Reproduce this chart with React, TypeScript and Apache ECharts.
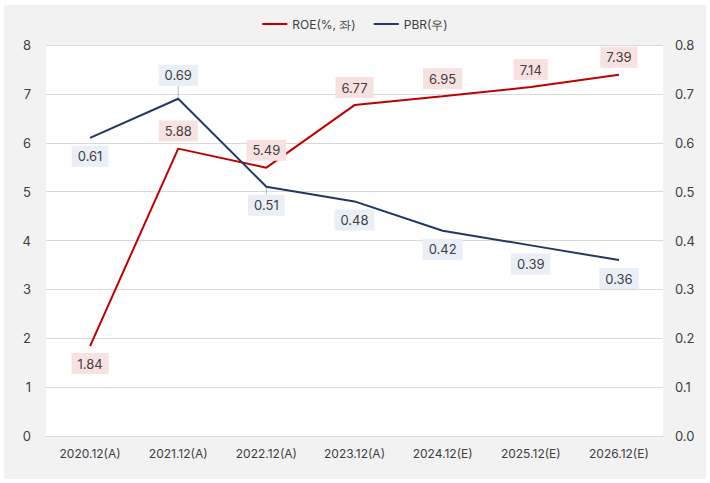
import React, { useEffect, useRef } from "react";
import * as echarts from "echarts";

const categories = ["2020.12(A)", "2021.12(A)", "2022.12(A)", "2023.12(A)", "2024.12(E)", "2025.12(E)", "2026.12(E)"];
const roe = [1.84, 5.88, 5.49, 6.77, 6.95, 7.14, 7.39];
const pbr = [0.61, 0.69, 0.51, 0.48, 0.42, 0.39, 0.36];
const roeLabelPos = ["bottom", "top", "top", "top", "top", "top", "top"];
const pbrLabelPos = ["bottom", "top", "bottom", "bottom", "bottom", "bottom", "bottom"];
// leader line length (px) for labels pushed away from their point; 0 = none
const pbrLeader = [0, 13, 8, 0, 0, 0, 0];

const FONT = "Inter, 'Noto Sans', sans-serif";

export default function App() {
  const ref = useRef<HTMLDivElement>(null);
  useEffect(() => {
    document.body.style.margin = "0";
    const chart = echarts.init(ref.current!, null, { renderer: "svg" });
    const labelBase = {
      show: true,
      fontSize: 13,
      color: "#404040",
      fontFamily: FONT,
      padding: [4, 6, 4, 6],
      distance: 7,
    };
    const leaderData = pbr
      .map((v, i) => ({ i, v, len: pbrLeader[i], up: pbrLabelPos[i] === "top" }))
      .filter((d) => d.len > 0)
      .map((d) => ({
        value: [d.i, d.v],
        symbolSize: [1, d.len],
        symbolOffset: [0, d.up ? -d.len / 2 : d.len / 2],
      }));
    chart.setOption({
      animation: false,
      backgroundColor: "#ffffff",
      graphic: [
        {
          type: "rect",
          z: -10,
          silent: true,
          shape: { x: 4, y: 5, width: 702, height: 474 },
          style: { fill: "#f2f2f2" },
        },
      ],
      legend: {
        top: 13,
        left: "center",
        itemWidth: 25,
        itemHeight: 2,
        itemGap: 18,
        icon: "rect",
        textStyle: { fontSize: 12, color: "#404040", fontFamily: FONT },
        data: ["ROE(%, 좌)", "PBR(우)"],
      },
      grid: {
        left: 46,
        right: 47,
        top: 45,
        bottom: 47,
        show: true,
        backgroundColor: "#ffffff",
        borderWidth: 0,
      },
      xAxis: {
        type: "category",
        data: categories,
        axisLine: { lineStyle: { color: "#d9d9d9" } },
        axisTick: { show: false },
        axisLabel: { fontSize: 12, color: "#404040", fontFamily: FONT, margin: 11 },
      },
      yAxis: [
        {
          type: "value",
          min: 0,
          max: 8,
          interval: 1,
          axisLine: { show: false },
          axisTick: { show: false },
          splitLine: { lineStyle: { color: "#d9d9d9" } },
          axisLabel: { fontSize: 13, color: "#404040", fontFamily: FONT, margin: 15 },
        },
        {
          type: "value",
          min: 0,
          max: 0.8,
          interval: 0.1,
          axisLine: { show: false },
          axisTick: { show: false },
          splitLine: { show: false },
          axisLabel: {
            fontSize: 13,
            color: "#404040",
            fontFamily: FONT,
            margin: 12,
            formatter: (v: number) => v.toFixed(1),
          },
        },
      ],
      series: [
        {
          name: "PBR leader",
          type: "scatter",
          yAxisIndex: 1,
          symbol: "rect",
          itemStyle: { color: "#a6a6a6" },
          data: leaderData,
          silent: true,
          z: 2,
        },
        {
          name: "ROE(%, 좌)",
          type: "line",
          yAxisIndex: 0,
          symbol: "circle",
          symbolSize: 0,
          showSymbol: true,
          lineStyle: { color: "#c00000", width: 2 },
          itemStyle: { color: "#c00000" },
          data: roe.map((v, i) => ({
            value: v,
            label: { ...labelBase, position: roeLabelPos[i], backgroundColor: "#f8e1e1", formatter: (p: any) => Number(p.value).toFixed(2) },
          })),
          z: 3,
        },
        {
          name: "PBR(우)",
          type: "line",
          yAxisIndex: 1,
          symbol: "circle",
          symbolSize: 0,
          showSymbol: true,
          lineStyle: { color: "#203864", width: 2 },
          itemStyle: { color: "#203864" },
          data: pbr.map((v, i) => ({
            value: v,
            label: {
              ...labelBase,
              position: pbrLabelPos[i],
              distance: pbrLeader[i] > 0 ? pbrLeader[i] : 8,
              backgroundColor: "#e9eef7",
              formatter: (p: any) => Number(p.value).toFixed(2),
            },
          })),
          z: 4,
        },
      ],
    });
    return () => chart.dispose();
  }, []);
  return <div ref={ref} style={{ width: 710, height: 483 }} />;
}
